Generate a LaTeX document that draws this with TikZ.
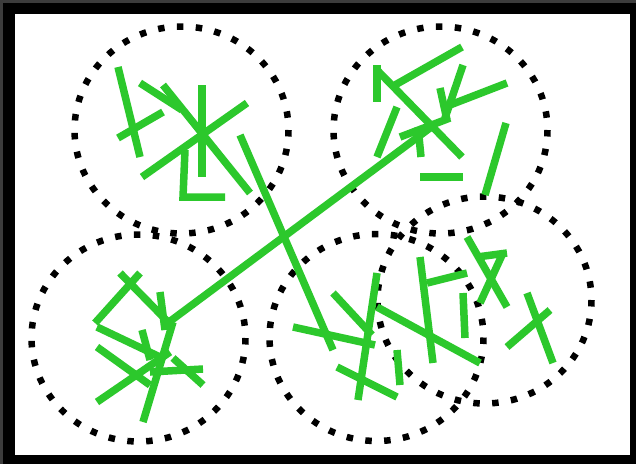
\documentclass[tikz,border=0pt]{standalone}
\definecolor{scribble}{RGB}{44,200,44}
\definecolor{edgegray}{RGB}{60,60,60}
\tikzset{
  ring/.style={draw=black, line width=6.5pt, dash pattern=on 6.5pt off 12.4pt},
  stroke/.style={draw=scribble, line width=7.5pt}
}
\begin{document}
\begin{tikzpicture}[x=1pt,y=-1pt]
\useasboundingbox (0,0) rectangle (636,464);
\fill[edgegray] (0,0) rectangle (636,464);
\fill[black] (3,3) rectangle (636,464);
\fill[white] (15,14) rectangle (630,455);
% dotted rings
\coordinate (c1) at (181.5,130);
\coordinate (c2) at (440.5,130);
\coordinate (c3) at (138.5,338);
\coordinate (c4) at (376.5,337.5);
\coordinate (c5) at (484.5,300);
\foreach \c in {c1,c2,c3,c4,c5}
  \draw[ring] (\c) ellipse [x radius=107, y radius=103.5];
% cluster 1
\draw[stroke] (118,67) -- (140,157);
\draw[stroke] (118,138) -- (163,112);
\draw[stroke] (140,83) -- (182,110);
\draw[stroke] (163,85) -- (250,193);
\draw[stroke] (202,85) -- (202,177);
\draw[stroke] (185,150) -- (183,197) -- (225,197);
\draw[stroke] (142,177) -- (247,103);
% long lines
\draw[stroke] (240,135) -- (333,350);
\draw[stroke] (165,325) -- (430,128);
% cluster 2
\draw[stroke] (377,65) -- (377,102);
\draw[stroke] (377,70) -- (462,157);
\draw[stroke] (395,85) -- (462,47);
\draw[stroke] (463,65) -- (445,118);
\draw[stroke] (440,88) -- (447,120);
\draw[stroke] (450,105) -- (507,83);
\draw[stroke] (397,107) -- (377,157);
\draw[stroke] (400,137) -- (450,118);
\draw[stroke] (418,127) -- (421,157);
\draw[stroke] (420,177) -- (463,177);
\draw[stroke] (506,123) -- (485,195);
% cluster 3
\draw[stroke] (120,273) -- (173,327);
\draw[stroke] (140,273) -- (95,323);
\draw[stroke] (97,327) -- (160,357);
\draw[stroke] (160,292) -- (165,330);
\draw[stroke] (173,322) -- (143,422);
\draw[stroke] (97,347) -- (150,385);
\draw[stroke] (97,402) -- (170,352);
\draw[stroke] (142,330) -- (150,360);
\draw[stroke] (150,372) -- (203,369);
\draw[stroke] (173,358) -- (203,385);
% cluster 4 and 5
\draw[stroke] (333,293) -- (372,335);
\draw[stroke] (293,327) -- (375,345);
\draw[stroke] (377,273) -- (358,400);
\draw[stroke] (377,307) -- (480,363);
\draw[stroke] (337,367) -- (397,397);
\draw[stroke] (397,350) -- (400,385);
\draw[stroke] (420,257) -- (433,363);
\draw[stroke] (427,283) -- (467,273);
\draw[stroke] (463,293) -- (465,338);
\draw[stroke] (467,237) -- (507,307);
\draw[stroke] (503,253) -- (480,303);
\draw[stroke] (477,257) -- (507,253);
\draw[stroke] (527,293) -- (553,363);
\draw[stroke] (507,347) -- (550,310);
\end{tikzpicture}
\end{document}
